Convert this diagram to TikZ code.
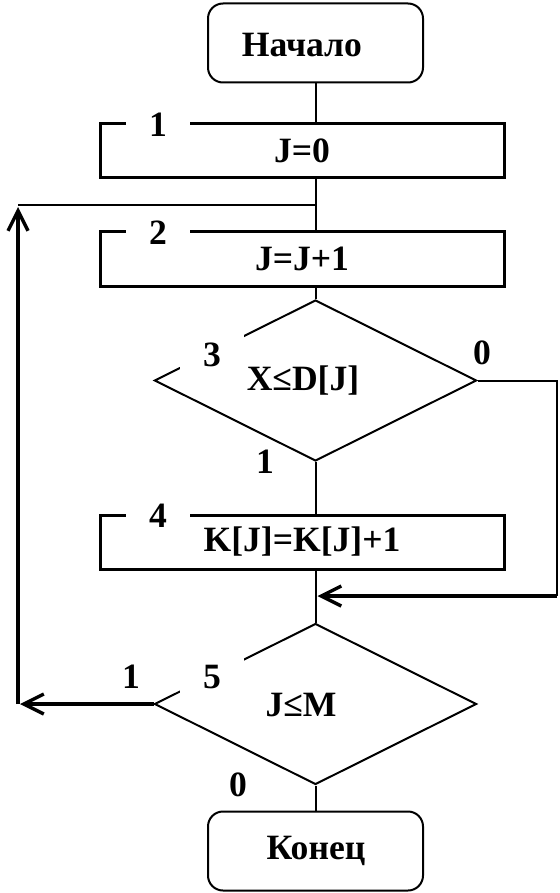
\documentclass[tikz,border=0pt]{standalone}
\usepackage{fontspec}
\setmainfont{Liberation Serif}
\usetikzlibrary{shapes.geometric,arrows.meta}
\begin{document}
\begin{tikzpicture}[x=0.5pt, y=-0.5pt,
  font=\fontsize{17.8}{21}\selectfont\bfseries,
  line width=1pt,
  term/.style={draw, rounded corners=7.5pt, minimum width=107.5pt, minimum height=39.5pt, inner sep=0pt},
  block/.style={draw, line width=1.5pt, minimum width=202pt, minimum height=27pt, inner sep=0pt},
  cond/.style={draw, diamond, minimum width=161pt, minimum height=80.5pt, inner sep=0pt},
  num/.style={fill=white, minimum width=32pt, minimum height=22pt, inner sep=0pt},
  back/.style={line width=1.7pt, shorten >=1pt, -{Straight Barb[length=10pt,width=10pt]}}]
  \useasboundingbox (0,0) rectangle (560,893);

  \node[term] (start) at (315.5,43) {};
  \node[block] (b1) at (302,151) {J=0};
  \node[block] (b2) at (302,259) {J=J+1};
  \node[cond] (d3) at (315.5,380.5) {};
  \node[block] (b4) at (302,542) {K[J]=K[J]+1};
  \node[cond] (d5) at (315.5,704) {};
  \node[term] (stop) at (315.5,851) {};

  \coordinate (j2) at (315.5,205);
  \coordinate (r3) at (557,596);
  \coordinate (m4) at (315.5,596);
  \coordinate (l5) at (18,704);
  \coordinate (l2) at (18,205);

  % main line
  \draw (start.south) -- (start.south |- b1.north);
  \draw (j2 |- b1.south) -- (j2 |- b2.north);
  \draw (j2 |- b2.south) -- (d3.north);
  \draw (d3.south) -- (d3.south |- b4.north);
  \draw (d3.south |- b4.south) -- (d5.north);
  \draw (d5.south) -- (stop.north);

  % branches
  \draw (d3.east) -| (r3);
  \draw[back] (r3) -- (m4);
  \draw[back] (d5.west) -- (l5);
  \draw[back] (l5) -- (l2);
  \draw (l2) -- (j2);

  % step numbers
  \node[num] (n1) at (158,125) {1};
  \node[num] (n2) at (158,233) {2};
  \node[num] (n3) at (212,355) {3};
  \node[num] (n4) at (158,516) {4};
  \node[num] (n5) at (212,677) {5};

  % exits
  \node (o3) at (482,353) {0};
  \node (y3) at (265,462) {1};
  \node (y5) at (131,677) {1};
  \node (o5) at (238,785) {0};

  \node (tstart) at (302,45) {Начало};
  \node (t3) at (303,381) {X≤D[J]};
  \node (t5) at (301,705) {J≤M};
  \node (tstop) at (316,851) {Конец};
\end{tikzpicture}
\end{document}
